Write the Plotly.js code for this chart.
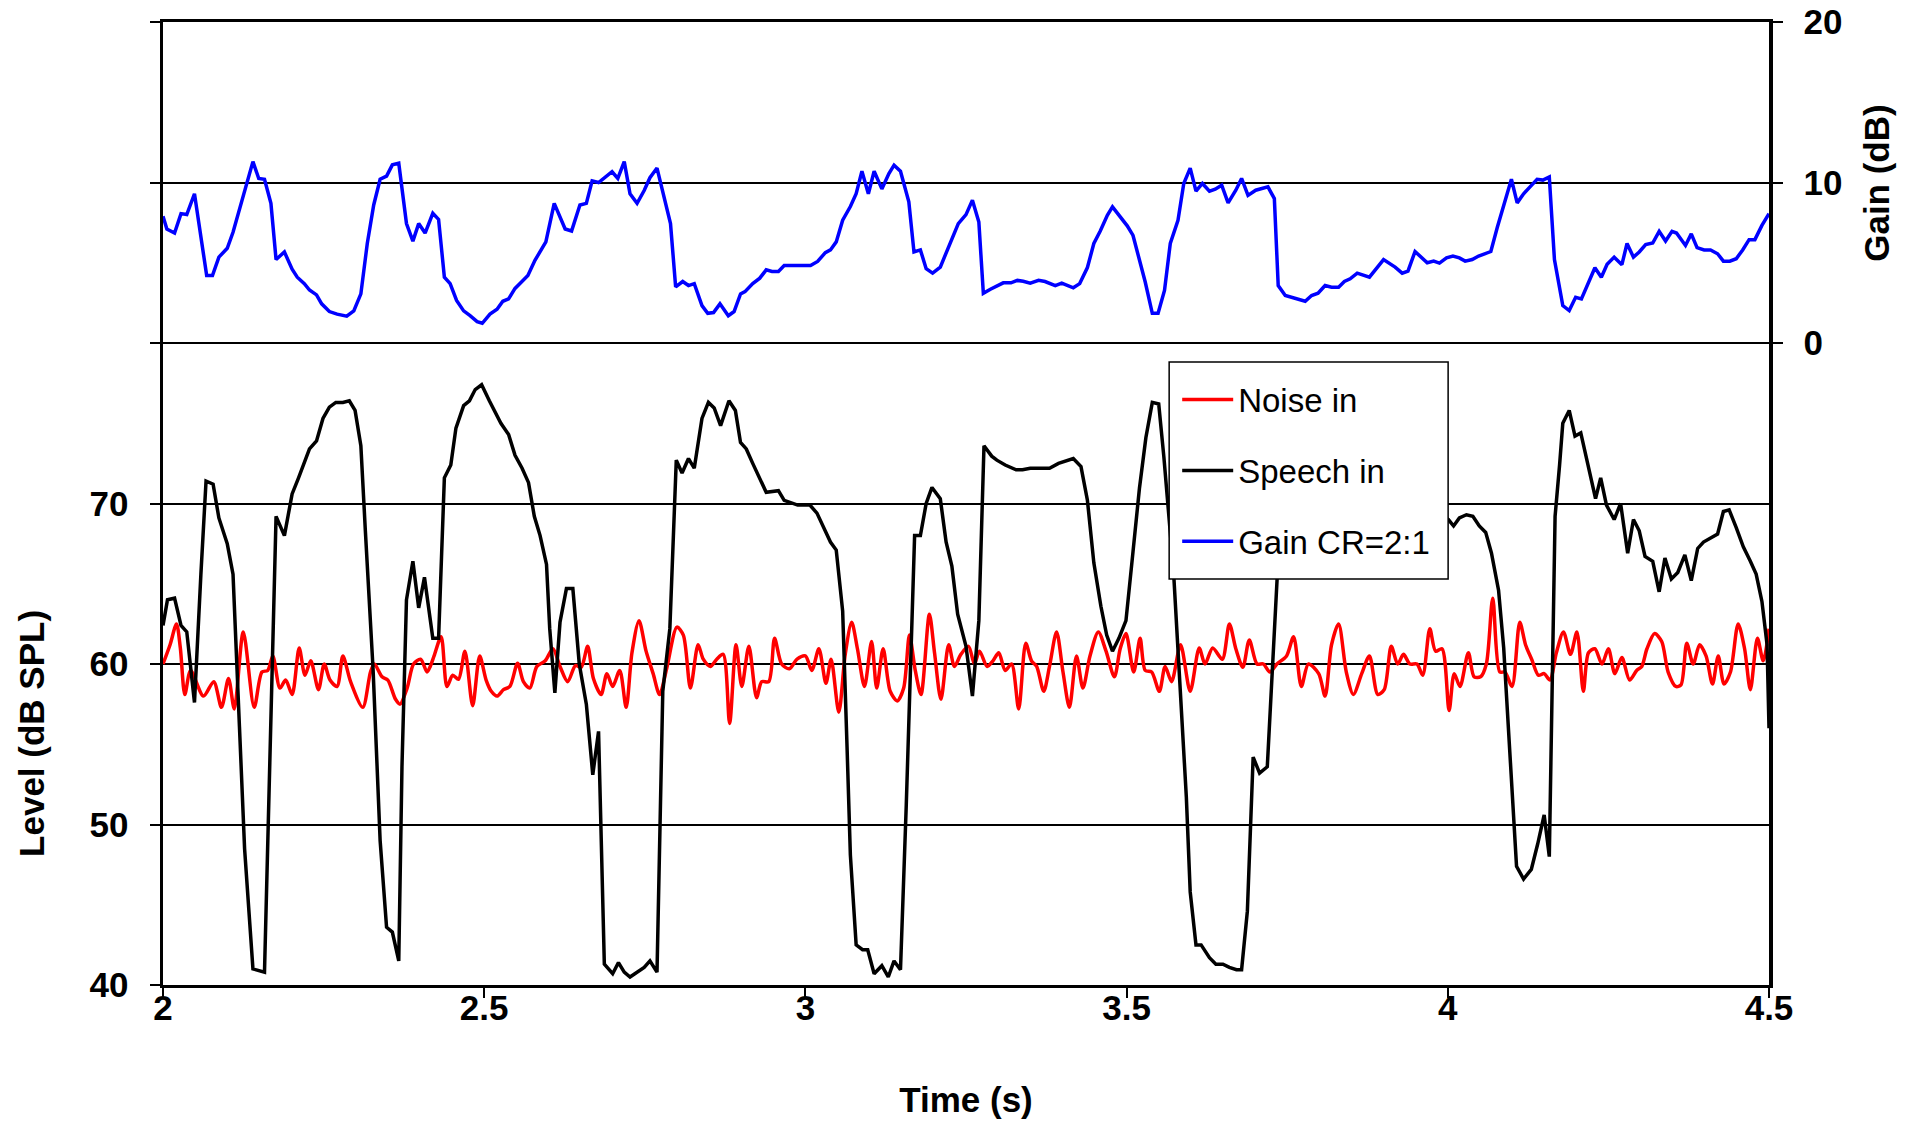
<!DOCTYPE html>
<html>
<head>
<meta charset="utf-8">
<script src="https://cdn.plot.ly/plotly-3.0.1.min.js"></script>
<style>html,body{margin:0;padding:0;background:#fff;}#chart{width:1907px;height:1124px;}</style>
</head>
<body>
<div id="chart"></div>
<script>
// Noise input level (dB SPL)
const noiseT = [2.000,2.011,2.021,2.027,2.034,2.043,2.063,2.079,2.091,2.102,2.111,2.125,2.142,2.154,2.163,2.171,2.182,2.191,2.201,2.212,2.221,2.230,2.242,2.251,2.260,2.271,2.280,2.292,2.311,2.323,2.329,2.341,2.350,2.362,2.369,2.380,2.390,2.401,2.411,2.416,2.422,2.433,2.442,2.451,2.460,2.470,2.482,2.493,2.503,2.511,2.520,2.530,2.540,2.552,2.561,2.571,2.582,2.595,2.607,2.618,2.630,2.642,2.651,2.661,2.670,2.682,2.691,2.700,2.711,2.721,2.730,2.741,2.752,2.763,2.773,2.784,2.800,2.810,2.821,2.833,2.841,2.852,2.862,2.872,2.882,2.892,2.901,2.912,2.924,2.932,2.943,2.952,2.963,2.975,2.987,3.000,3.010,3.021,3.032,3.040,3.052,3.062,3.072,3.081,3.092,3.103,3.111,3.121,3.132,3.143,3.153,3.162,3.171,3.180,3.193,3.201,3.211,3.223,3.232,3.242,3.254,3.263,3.271,3.283,3.292,3.301,3.311,3.321,3.332,3.343,3.352,3.360,3.371,3.380,3.391,3.401,3.411,3.422,3.432,3.443,3.456,3.468,3.481,3.490,3.499,3.511,3.521,3.529,3.539,3.551,3.560,3.570,3.584,3.599,3.613,3.622,3.634,3.649,3.660,3.670,3.681,3.691,3.703,3.713,3.723,3.734,3.749,3.760,3.772,3.783,3.799,3.809,3.819,3.830,3.842,3.853,3.866,3.878,3.891,3.901,3.912,3.922,3.931,3.941,3.952,3.961,3.972,3.981,3.991,4.002,4.010,4.019,4.032,4.041,4.051,4.060,4.070,4.081,4.089,4.100,4.112,4.121,4.131,4.141,4.150,4.159,4.169,4.180,4.191,4.201,4.211,4.219,4.229,4.240,4.250,4.260,4.271,4.283,4.294,4.302,4.310,4.322,4.333,4.343,4.355,4.363,4.372,4.382,4.392,4.402,4.412,4.421,4.430,4.440,4.452,4.462,4.471,4.482,4.491,4.500];
const noiseLevel = [60.0,61.2,62.5,61.0,58.1,59.6,58.0,58.9,57.3,59.1,57.2,62.0,57.3,59.5,59.6,60.5,58.5,59.0,58.1,61.0,59.3,60.2,58.4,60.0,59.0,58.6,60.5,58.9,57.3,59.5,60.0,59.2,59.0,57.8,57.5,58.5,60.0,60.3,59.5,59.85,60.5,61.7,58.6,59.3,59.05,60.8,57.4,60.5,59.0,58.3,58.0,58.4,58.6,60.05,58.9,58.5,59.85,60.2,60.95,59.85,58.9,59.9,59.8,61.1,59.1,58.1,59.4,58.6,59.6,57.3,60.7,62.7,60.8,59.4,58.1,59.7,62.3,61.8,58.5,61.2,60.3,59.85,60.3,60.6,56.3,61.2,58.6,61.1,57.9,58.9,58.9,61.6,60.0,59.7,60.3,60.5,59.6,60.95,58.8,60.3,57.0,60.6,62.6,60.95,58.6,61.4,58.5,60.95,58.3,57.7,58.5,61.8,59.6,58.1,63.1,60.7,57.8,61.2,59.85,60.6,61.1,60.0,60.8,59.85,60.2,60.7,59.6,60.0,57.2,61.3,60.2,59.85,58.3,59.85,62.0,59.5,57.3,60.5,58.5,60.5,62.0,60.8,59.2,60.95,61.9,59.5,61.6,59.6,59.5,58.3,59.85,58.9,61.2,58.3,61.0,60.0,61.0,60.3,62.5,60.95,59.8,61.5,60.0,60.0,59.5,60.0,60.5,61.7,58.6,60.0,59.4,58.0,61.2,62.5,59.5,58.1,59.4,60.5,58.1,58.4,61.1,60.0,60.6,60.0,60.0,59.3,62.2,60.8,60.95,57.1,59.4,58.6,60.7,59.2,59.2,60.0,64.1,59.5,59.5,58.6,62.6,61.2,60.25,59.3,59.4,59.0,60.7,62.0,60.6,62.0,58.3,60.7,60.95,60.0,60.95,59.4,60.4,59.0,59.6,59.85,60.95,61.9,61.4,59.5,58.6,58.7,61.3,60.0,61.2,60.5,58.75,60.5,58.75,59.5,62.5,60.95,58.4,61.6,60.2,62.2];

// Speech input level (dB SPL)
const speechT = [2.000,2.007,2.018,2.028,2.037,2.049,2.059,2.067,2.078,2.087,2.100,2.109,2.119,2.127,2.140,2.158,2.168,2.176,2.189,2.201,2.211,2.219,2.228,2.239,2.249,2.259,2.269,2.280,2.290,2.299,2.308,2.315,2.327,2.338,2.348,2.357,2.367,2.372,2.379,2.389,2.398,2.407,2.420,2.429,2.438,2.448,2.456,2.468,2.477,2.486,2.496,2.508,2.526,2.538,2.548,2.559,2.569,2.578,2.587,2.597,2.602,2.610,2.618,2.628,2.638,2.648,2.659,2.669,2.678,2.687,2.700,2.709,2.718,2.727,2.749,2.758,2.769,2.778,2.789,2.799,2.808,2.818,2.827,2.839,2.849,2.858,2.868,2.881,2.891,2.899,2.908,2.918,2.929,2.939,2.958,2.967,2.988,3.007,3.018,3.028,3.039,3.048,3.058,3.065,3.070,3.079,3.089,3.097,3.107,3.119,3.129,3.138,3.148,3.157,3.163,3.170,3.179,3.188,3.197,3.210,3.219,3.228,3.237,3.250,3.260,3.270,3.278,3.290,3.298,3.311,3.328,3.338,3.350,3.380,3.394,3.417,3.429,3.439,3.449,3.460,3.469,3.478,3.488,3.499,3.510,3.520,3.530,3.540,3.550,3.558,3.573,3.583,3.593,3.599,3.608,3.616,3.629,3.639,3.650,3.660,3.671,3.679,3.688,3.697,3.707,3.719,3.726,3.735,3.745,3.760,3.780,3.800,3.830,3.860,3.880,3.900,3.920,3.950,3.975,3.990,4.001,4.009,4.018,4.029,4.039,4.049,4.059,4.068,4.079,4.087,4.094,4.101,4.107,4.118,4.130,4.140,4.150,4.158,4.164,4.167,4.174,4.179,4.189,4.198,4.207,4.219,4.230,4.238,4.247,4.259,4.269,4.280,4.289,4.298,4.307,4.319,4.329,4.338,4.348,4.358,4.369,4.379,4.389,4.398,4.420,4.429,4.438,4.449,4.460,4.471,4.480,4.489,4.497,4.500];
const speechLevel = [62.4,64.0,64.1,62.4,62.0,57.6,65.6,71.4,71.2,69.1,67.5,65.6,56.1,48.5,41.0,40.8,56.6,69.2,68.0,70.6,71.6,72.4,73.4,73.9,75.3,76.0,76.3,76.3,76.4,75.8,73.6,68.3,59.7,49.0,43.6,43.3,41.5,53.6,64.0,66.4,63.5,65.4,61.6,61.6,71.6,72.4,74.7,76.1,76.4,77.1,77.4,76.4,75.0,74.3,73.0,72.2,71.3,69.2,68.0,66.2,62.2,58.2,62.6,64.7,64.7,60.0,57.5,53.1,55.8,41.3,40.7,41.4,40.8,40.5,41.1,41.5,40.8,58.3,62.2,72.7,71.9,72.8,72.2,75.3,76.3,75.95,74.85,76.4,75.8,73.8,73.4,72.5,71.6,70.7,70.8,70.2,69.9,69.9,69.4,68.6,67.6,67.1,63.3,54.6,48.1,42.5,42.2,42.2,40.7,41.2,40.5,41.5,40.95,51.2,58.5,68.0,68.0,70.0,71.0,70.3,67.6,66.1,63.1,61.1,58.0,62.7,73.6,72.95,72.7,72.4,72.1,72.1,72.2,72.2,72.5,72.8,72.3,70.2,66.3,63.6,61.8,60.8,61.6,62.7,67.0,70.95,74.1,76.3,76.2,72.9,65.8,59.2,51.7,45.8,42.5,42.5,41.7,41.3,41.3,41.1,40.95,40.95,44.6,54.2,53.2,53.6,59.0,65.6,73.5,74.5,74.8,73.8,73.0,71.3,71.8,69.8,70.5,68.8,69.8,69.3,69.0,68.6,69.1,69.3,69.2,68.6,68.2,66.9,64.6,61.0,56.1,51.7,47.4,46.6,47.2,48.8,50.6,48.0,61.0,69.2,72.4,75.0,75.8,74.2,74.4,72.2,70.3,71.6,69.9,69.0,70.0,66.9,69.0,68.3,66.7,66.4,64.5,66.6,65.3,65.7,66.8,65.2,67.2,67.6,68.1,69.5,69.6,68.5,67.3,66.4,65.6,63.9,61.2,56.0];

// Gain with compression ratio 2:1 (dB)
const gainT = [2.000,2.006,2.018,2.028,2.037,2.049,2.068,2.077,2.087,2.100,2.109,2.120,2.131,2.140,2.149,2.158,2.168,2.176,2.189,2.201,2.209,2.220,2.228,2.239,2.247,2.259,2.271,2.286,2.297,2.308,2.318,2.328,2.338,2.348,2.357,2.367,2.379,2.389,2.398,2.408,2.420,2.429,2.438,2.447,2.457,2.468,2.478,2.489,2.497,2.509,2.520,2.529,2.538,2.548,2.558,2.568,2.579,2.596,2.609,2.626,2.636,2.649,2.659,2.668,2.678,2.688,2.699,2.708,2.718,2.727,2.738,2.749,2.758,2.769,2.779,2.790,2.798,2.809,2.818,2.827,2.839,2.848,2.857,2.867,2.880,2.889,2.899,2.906,2.918,2.929,2.939,2.948,2.958,2.967,3.008,3.019,3.031,3.039,3.048,3.058,3.070,3.079,3.088,3.098,3.107,3.119,3.130,3.138,3.148,3.161,3.169,3.179,3.188,3.198,3.210,3.221,3.238,3.250,3.260,3.270,3.277,3.288,3.298,3.308,3.320,3.330,3.339,3.350,3.363,3.373,3.389,3.399,3.417,3.427,3.439,3.449,3.459,3.470,3.478,3.489,3.501,3.510,3.519,3.529,3.540,3.549,3.559,3.568,3.580,3.589,3.599,3.608,3.618,3.629,3.638,3.648,3.658,3.670,3.679,3.689,3.701,3.710,3.720,3.730,3.736,3.747,3.761,3.778,3.788,3.798,3.809,3.819,3.830,3.839,3.848,3.859,3.878,3.900,3.918,3.929,3.938,3.949,3.968,3.978,3.987,3.998,4.008,4.018,4.027,4.038,4.048,4.058,4.067,4.077,4.088,4.099,4.108,4.118,4.128,4.139,4.148,4.158,4.166,4.179,4.189,4.199,4.208,4.219,4.229,4.239,4.248,4.259,4.271,4.279,4.289,4.298,4.308,4.319,4.329,4.339,4.349,4.356,4.370,4.379,4.388,4.399,4.409,4.420,4.429,4.439,4.449,4.459,4.469,4.478,4.489,4.500];
const gainDb = [7.9,7.1,6.85,8.06,8.0,9.3,4.2,4.2,5.35,5.9,6.9,8.5,9.9,11.3,10.25,10.2,8.7,5.2,5.67,4.6,4.1,3.7,3.3,3.0,2.44,1.96,1.8,1.67,2.0,3.06,6.2,8.6,10.2,10.4,11.1,11.2,7.44,6.35,7.44,6.85,8.08,7.7,4.1,3.7,2.65,2.0,1.7,1.33,1.23,1.8,2.1,2.6,2.75,3.4,3.8,4.2,5.15,6.3,8.7,7.1,6.98,8.6,8.7,10.1,10.0,10.35,10.67,10.25,11.3,9.3,8.7,9.5,10.3,10.9,9.2,7.44,3.5,3.83,3.58,3.7,2.33,1.85,1.9,2.44,1.7,1.96,3.06,3.2,3.7,4.04,4.56,4.46,4.46,4.83,4.83,5.08,5.63,5.8,6.3,7.65,8.5,9.3,10.7,9.3,10.7,9.6,10.56,11.08,10.7,8.8,5.67,5.8,4.63,4.35,4.73,5.8,7.44,8.0,8.9,7.54,3.1,3.35,3.58,3.75,3.75,3.9,3.85,3.73,3.9,3.83,3.58,3.73,3.44,3.7,4.7,6.2,6.98,7.96,8.48,7.9,7.3,6.7,5.35,3.8,1.85,1.85,3.27,6.2,7.65,9.94,10.9,9.46,9.94,9.46,9.58,9.83,8.73,9.52,10.25,9.2,9.52,9.6,9.73,9.0,3.58,2.96,2.8,2.6,2.96,3.1,3.58,3.48,3.48,3.83,4.0,4.35,4.1,5.2,4.73,4.35,4.48,5.7,5.0,5.1,4.98,5.3,5.42,5.3,5.1,5.2,5.42,5.56,5.7,7.2,8.8,10.2,8.73,9.3,9.73,10.2,10.15,10.35,5.2,2.33,2.02,2.85,2.75,3.73,4.69,4.1,4.9,5.35,4.88,6.2,5.35,5.67,6.13,6.23,6.96,6.35,6.96,6.85,6.08,6.8,5.94,5.8,5.8,5.56,5.1,5.1,5.25,5.8,6.44,6.44,7.33,8.06];

const xTicks = [2, 2.5, 3, 3.5, 4, 4.5];
const xTickText = ['2', '2.5', '3', '3.5', '4', '4.5'];
const levelTicks = [40, 50, 60, 70, 80, 90, 100];
const levelTickText = ['40', '50', '60', '70', '', '', ''];
const gainTicks = [0, 10, 20];
const gainTickText = ['0', '10', '20'];
const seriesNames = ['Noise in', 'Speech in', 'Gain CR=2:1'];

const FONT = 'Liberation Sans, Arial, Helvetica, sans-serif';

const traces = [
  {x: noiseT, y: noiseLevel, name: seriesNames[0], type: 'scatter', mode: 'lines',
   line: {color: '#FF0000', width: 3.5, shape: 'spline', smoothing: 0.8}, legendgroup: 'a', yaxis: 'y'},
  {x: speechT, y: speechLevel, name: seriesNames[1], type: 'scatter', mode: 'lines',
   line: {color: '#000000', width: 3.5}, legendgroup: 'b', yaxis: 'y'},
  {x: gainT, y: gainDb, name: seriesNames[2], type: 'scatter', mode: 'lines',
   line: {color: '#0000FF', width: 3.5}, legendgroup: 'c', yaxis: 'y2'}
];

const tickFont = {family: FONT, size: 35, color: '#000', weight: 'bold'};

const layout = {
  width: 1907, height: 1124,
  margin: {l: 163, r: 138, t: 22, b: 139, pad: 0},
  paper_bgcolor: '#fff', plot_bgcolor: '#fff',
  showlegend: true,
  legend: {
    x: 0.6315, y: 0.637, xanchor: 'left', yanchor: 'top',
    bgcolor: 'rgba(0,0,0,0)', borderwidth: 0,
    font: {family: FONT, size: 33, color: '#000'},
    itemwidth: 51, tracegroupgap: 25, traceorder: 'grouped'
  },
  shapes: [
    {type: 'rect', xref: 'paper', yref: 'paper', x0: 0.6265, x1: 0.8002, y0: 0.4216, y1: 0.6469,
     line: {color: '#000', width: 1.5}, fillcolor: '#fff', layer: 'above'}
  ],
  xaxis: {
    range: [2, 4.5], tickvals: xTicks, ticktext: xTickText,
    ticks: 'outside', ticklen: 10, tickwidth: 2, tickcolor: '#000',
    showline: true, linecolor: '#000', linewidth: 3, mirror: true,
    showgrid: false, zeroline: false, tickfont: tickFont, ticklabelstandoff: -20,
    title: {text: 'Time (s)', font: {family: FONT, size: 35, color: '#000', weight: 'bold'}, standoff: 62}
  },
  yaxis: {
    range: [40, 100], tickvals: levelTicks, ticktext: levelTickText,
    ticks: 'outside', ticklen: 10, tickwidth: 2, tickcolor: '#000',
    showline: true, linecolor: '#000', linewidth: 3.5,
    showgrid: true, gridcolor: '#000', gridwidth: 2, zeroline: false,
    tickfont: tickFont, ticklabelstandoff: 14
  },
  yaxis2: {
    range: [-40, 20], overlaying: 'y', side: 'right',
    tickvals: gainTicks, ticktext: gainTickText,
    ticks: 'outside', ticklen: 10, tickwidth: 2, tickcolor: '#000',
    showline: true, linecolor: '#000', linewidth: 3.5,
    showgrid: false, zeroline: false, tickfont: tickFont, ticklabelstandoff: 14
  },
  annotations: [
    {text: 'Level (dB SPL)', xref: 'paper', yref: 'paper', x: -0.0816, y: 0.2617,
     xanchor: 'center', yanchor: 'middle', textangle: -90, showarrow: false,
     font: {family: FONT, size: 35, color: '#000', weight: 'bold'}},
    {text: 'Gain (dB)', xref: 'paper', yref: 'paper', x: 1.0665, y: 0.8328,
     xanchor: 'center', yanchor: 'middle', textangle: -90, showarrow: false,
     font: {family: FONT, size: 35, color: '#000', weight: 'bold'}}
  ]
};

Plotly.newPlot('chart', traces, layout, {displayModeBar: false, staticPlot: true});
</script>
</body>
</html>
